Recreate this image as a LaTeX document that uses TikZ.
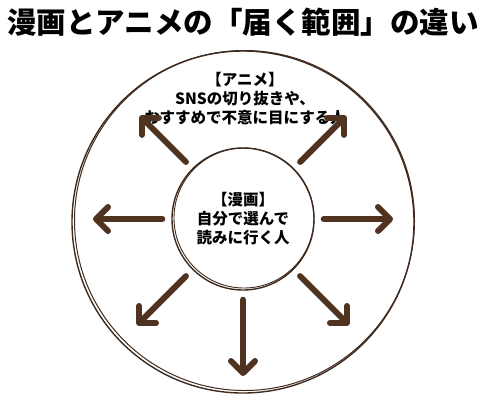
\documentclass[tikz,border=0pt]{standalone}
\usepackage{fontspec}
\setmainfont{Noto Sans CJK JP}
\usetikzlibrary{arrows.meta}
\definecolor{brush}{RGB}{80,50,32}
\definecolor{ink}{RGB}{62,42,30}
\begin{document}
\begin{tikzpicture}[
        x=1pt, y=1pt,
        ring/.style={circle, draw=ink, line width=1.4pt, inner sep=0pt},
        label_text/.style={font=\fontsize{15.5}{19}\selectfont\bfseries, align=center, text=black},
        spread/.style={draw=brush, line width=6pt, line cap=round,
            -{Straight Barb[length=12pt, width=24pt, round]}}
    ]
        \useasboundingbox (0,0) rectangle (489,-400);

        % Title
        \node[font=\fontsize{29.5}{32}\selectfont\bfseries] (title) at (243,-22) {漫画とアニメの「届く範囲」の違い};

        % Outer ring: anime reach (drawn twice for a sketchy look)
        \node[ring, minimum size=342pt] (reach) at (243,-222) {};
        \draw[ink, line width=1pt] (244.5,-220.5) circle (170pt);
        \node[label_text] (anime) at (245,-99) {【アニメ】\\SNSの切り抜きや、\\おすすめで不意に目にする人};

        % Inner ring: manga readers
        \node[ring, minimum size=142pt, label_text] (manga) at (243,-219) {【漫画】\\自分で選んで\\読みに行く人};
        \draw[ink, line width=0.9pt] (244,-218) circle (70pt);

        % Arrows pointing outward
        \foreach \a/\r in {0/150, 45/146, 135/146, 180/150, 225/150, 270/157, 315/150} {
            \path (manga.center) ++(\a:\r) coordinate (tip\a);
            \draw[spread, shorten <=9pt] (manga.\a) -- (tip\a);
        }
    \end{tikzpicture}
\end{document}
